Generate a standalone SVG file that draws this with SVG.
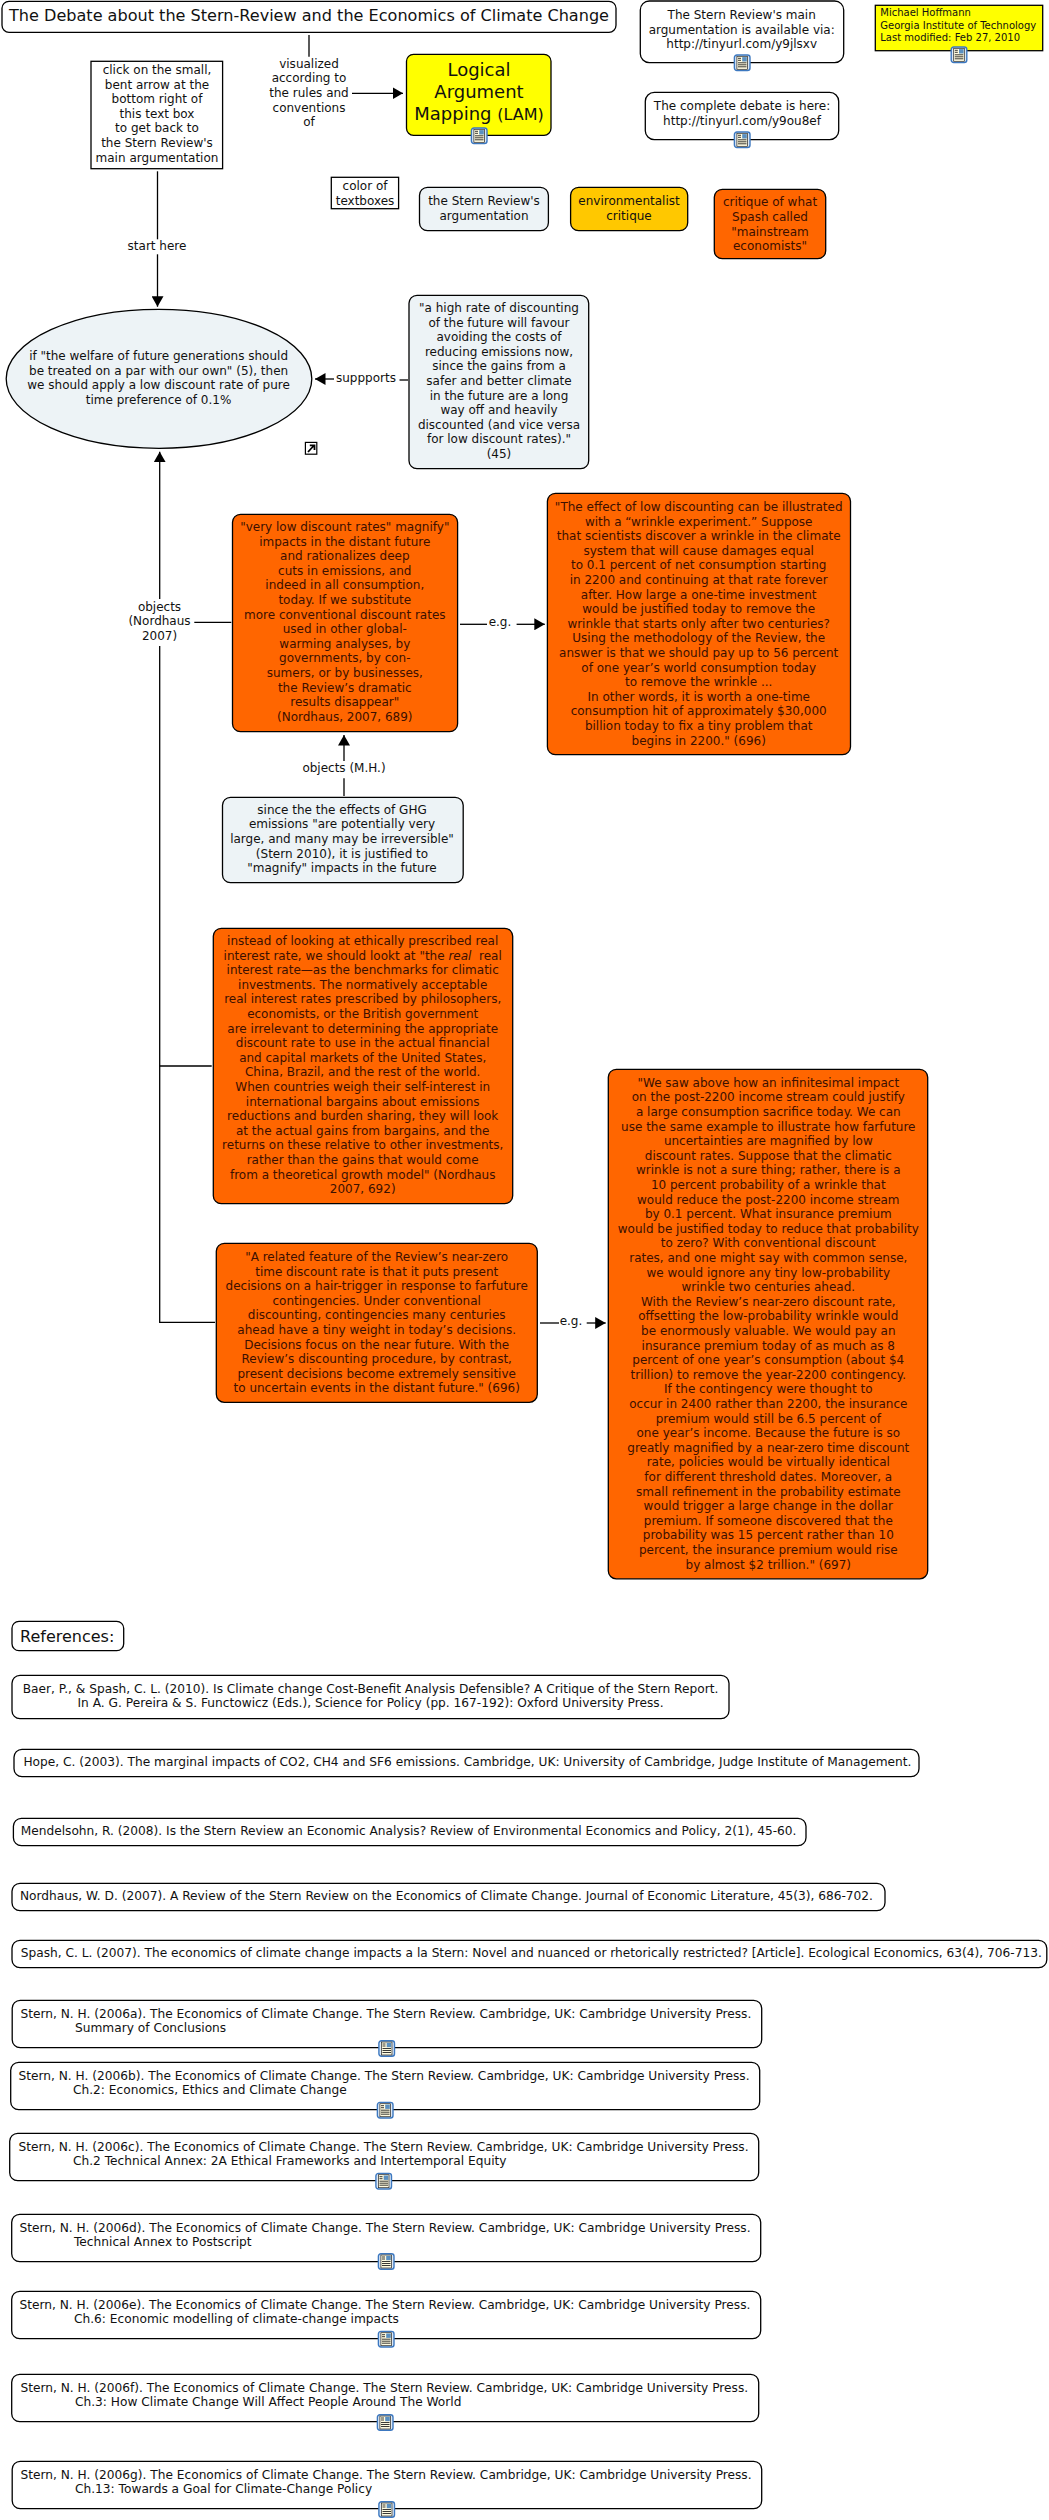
<svg xmlns="http://www.w3.org/2000/svg" width="1049" height="2520" viewBox="0 0 1049 2520">
<style>
text{font-family:"DejaVu Sans",Verdana,sans-serif;font-size:12px;fill:#111}
.m{text-anchor:middle}
.o text{fill:#3c1000}
.b{stroke:#000;stroke-width:1.3}
.w{fill:#fff}.y{fill:#ff0}.g{fill:#edf3f6}.a{fill:#ffc800}.r{fill:#ff6600}
.ln{fill:none;stroke:#000;stroke-width:1.3}
g[id^="ref-"] text{font-size:12.2px}
</style>
<defs>
<marker id="ah" markerUnits="userSpaceOnUse" markerWidth="11" markerHeight="12" refX="10.5" refY="6" orient="auto"><path d="M0 0L10.5 6L0 12Z" fill="#000"/></marker>
<symbol id="doc" viewBox="0 0 17 17" overflow="visible"><rect x="0.7" y="0.7" width="15.6" height="15.6" rx="2.5" fill="#dce8f5" stroke="#3c78c0" stroke-width="1.4"/><rect x="3.2" y="2" width="10.6" height="13" fill="#fffbe0" stroke="#222" stroke-width="0.7"/><rect x="8.5" y="2.8" width="4.6" height="4.4" fill="#5a8fc0"/><path d="M4.3 4h3M4.3 6h3M4.3 8.5h8.5M4.3 10.5h8.5M4.3 12.5h8.5" stroke="#222" stroke-width="0.9"/></symbol>
</defs>
<rect width="1049" height="2520" fill="#fff"/>
<g id="connectors">
<path class="ln" d="M309 35V56.7"/>
<path class="ln" d="M352 93.3H403" marker-end="url(#ah)"/>
<path class="ln" d="M157.5 171.3V239.3"/>
<path class="ln" d="M157.5 254.3V306.7" marker-end="url(#ah)"/>
<path class="ln" d="M408 380H399.5"/>
<path class="ln" d="M334 379H315" marker-end="url(#ah)"/>
<path class="ln" d="M159.7 646V1322.3H215"/>
<path class="ln" d="M159.7 599V451.7" marker-end="url(#ah)"/>
<path class="ln" d="M159.7 1066H211.7"/>
<path class="ln" d="M194.3 622.3H231.3"/>
<path class="ln" d="M460 624.3H487"/>
<path class="ln" d="M516.6 624.3H544.8" marker-end="url(#ah)"/>
<path class="ln" d="M344 796V778.3"/>
<path class="ln" d="M344 761V735" marker-end="url(#ah)"/>
<path class="ln" d="M540 1323H559"/>
<path class="ln" d="M586.7 1323H605.7" marker-end="url(#ah)"/>
<text class="m" y="67.7"><tspan x="309">visualized</tspan><tspan x="309" y="82.3">according to</tspan><tspan x="309" y="97">the rules and</tspan><tspan x="309" y="111.7">conventions</tspan><tspan x="309" y="126.3">of</tspan></text>
<text class="m" x="157" y="250">start here</text>
<text class="m" x="366" y="382">suppports</text>
<text class="m" y="610.7"><tspan x="159.5">objects</tspan><tspan x="159.5" y="625.3">(Nordhaus</tspan><tspan x="159.5" y="640">2007)</tspan></text>
<text class="m" x="500" y="625.7">e.g.</text>
<text class="m" x="344" y="772">objects (M.H.)</text>
<text class="m" x="571" y="1325.4">e.g.</text>
</g>
<g id="title"><rect class="w b" x="2" y="1.3" width="614" height="31" rx="7"/><text class="m" x="309" y="20.7" style="font-size:16px" textLength="600" lengthAdjust="spacingAndGlyphs">The Debate about the Stern-Review and the Economics of Climate Change</text></g>
<g id="lam"><rect class="y b" x="406.5" y="54.3" width="144.5" height="81" rx="7"/><text class="m" style="font-size:18px"><tspan x="479" y="76">Logical</tspan><tspan x="479" y="98">Argument</tspan><tspan x="479" y="120">Mapping <tspan style="font-size:16px">(LAM)</tspan></tspan></text><use href="#doc" x="470.7" y="127.3" width="17" height="17"/></g>
<g id="click"><rect class="w b" x="91" y="61.3" width="131.6" height="107.4"/><text class="m"><tspan x="157" y="74">click on the small,</tspan><tspan x="157" y="88.6">bent arrow at the</tspan><tspan x="157" y="103.2">bottom right of</tspan><tspan x="157" y="117.8">this text box</tspan><tspan x="157" y="132.4">to get back to</tspan><tspan x="157" y="147">the Stern Review's</tspan><tspan x="157" y="161.6">main argumentation</tspan></text></g>
<g id="main-link"><rect class="w b" x="640.3" y="1" width="203.4" height="61.7" rx="9"/><text class="m"><tspan x="741.7" y="19">The Stern Review's main</tspan><tspan x="741.7" y="33.7">argumentation is available via:</tspan><tspan x="741.7" y="48.3">http://tinyurl.com/y9jlsxv</tspan></text><use href="#doc" x="733.7" y="54.3" width="17" height="17"/></g>
<g id="debate-link"><rect class="w b" x="645.3" y="92.3" width="193.4" height="47.4" rx="9"/><text class="m"><tspan x="742" y="110">The complete debate is here:</tspan><tspan x="742" y="124.7">http://tinyurl.com/y9ou8ef</tspan></text><use href="#doc" x="733.7" y="131.3" width="17" height="17"/></g>
<g id="author"><rect class="y b" x="875.3" y="5.3" width="167.4" height="45.4"/><text style="font-size:10px"><tspan x="880.3" y="16.3">Michael Hoffmann</tspan><tspan x="880.3" y="28.7">Georgia Institute of Technology</tspan><tspan x="880.3" y="40.7">Last modified: Feb 27, 2010</tspan></text><use href="#doc" x="950.5" y="46.3" width="17" height="17"/></g>
<g id="legend-label"><rect class="w b" x="331.3" y="177.3" width="67.3" height="31.4"/><text class="m"><tspan x="365" y="190">color of</tspan><tspan x="365" y="204.7">textboxes</tspan></text></g>
<g id="legend-stern"><rect class="g b" x="419.5" y="187.3" width="128.9" height="43.4" rx="8"/><text class="m"><tspan x="484" y="205">the Stern Review's</tspan><tspan x="484" y="220">argumentation</tspan></text></g>
<g id="legend-env"><rect class="a b" x="570.6" y="187.3" width="117.1" height="43.4" rx="8"/><text class="m"><tspan x="629" y="205">environmentalist</tspan><tspan x="629" y="219.7">critique</tspan></text></g>
<g id="legend-critique" class="o"><rect class="r b" x="714.3" y="189.3" width="111.4" height="69.4" rx="8"/><text class="m"><tspan x="770" y="206.3">critique of what</tspan><tspan x="770" y="221">Spash called</tspan><tspan x="770" y="235.6">"mainstream</tspan><tspan x="770" y="250.2">economists"</tspan></text></g>
<g id="claim"><ellipse class="g b" cx="159" cy="378.8" rx="152.8" ry="69.5"/><text class="m"><tspan x="158.6" y="360">if "the welfare of future generations should</tspan><tspan x="158.6" y="374.7">be treated on a par with our own" (5), then</tspan><tspan x="158.6" y="389.3">we should apply a low discount rate of pure</tspan><tspan x="158.6" y="404">time preference of 0.1%</tspan></text></g>
<g id="back-arrow"><rect x="305.4" y="442.4" width="11.4" height="11.8" fill="#fff" stroke="#000" stroke-width="1.2"/><path d="M308 452L313.5 446M309.8 445.3H314.5V450" fill="none" stroke="#000" stroke-width="1.8"/></g>
<g id="supports"><rect class="g b" x="409" y="295.3" width="179.7" height="173.4" rx="8"/><text class="m"><tspan x="499" y="312">"a high rate of discounting</tspan><tspan x="499" y="326.6">of the future will favour</tspan><tspan x="499" y="341.2">avoiding the costs of</tspan><tspan x="499" y="355.8">reducing emissions now,</tspan><tspan x="499" y="370.4">since the gains from a</tspan><tspan x="499" y="385">safer and better climate</tspan><tspan x="499" y="399.6">in the future are a long</tspan><tspan x="499" y="414.2">way off and heavily</tspan><tspan x="499" y="428.8">discounted (and vice versa</tspan><tspan x="499" y="443.4">for low discount rates)."</tspan><tspan x="499" y="458">(45)</tspan></text></g>
<g id="magnify" class="o"><rect class="r b" x="232.5" y="514.3" width="225.1" height="217.4" rx="8"/><text class="m"><tspan x="344.8" y="531">"very low discount rates" magnify"</tspan><tspan x="344.8" y="545.6">impacts in the distant future</tspan><tspan x="344.8" y="560.2">and rationalizes deep</tspan><tspan x="344.8" y="574.8">cuts in emissions, and</tspan><tspan x="344.8" y="589.4">indeed in all consumption,</tspan><tspan x="344.8" y="604">today. If we substitute</tspan><tspan x="344.8" y="618.6">more conventional discount rates</tspan><tspan x="344.8" y="633.2">used in other global-</tspan><tspan x="344.8" y="647.8">warming analyses, by</tspan><tspan x="344.8" y="662.4">governments, by con-</tspan><tspan x="344.8" y="677">sumers, or by businesses,</tspan><tspan x="344.8" y="691.6">the Review’s dramatic</tspan><tspan x="344.8" y="706.2">results disappear"</tspan><tspan x="344.8" y="720.8">(Nordhaus, 2007, 689)</tspan></text></g>
<g id="wrinkle" class="o"><rect class="r b" x="547.4" y="493.3" width="303.1" height="261.4" rx="8"/><text class="m"><tspan x="698.7" y="511">"The effect of low discounting can be illustrated</tspan><tspan x="698.7" y="525.6">with a “wrinkle experiment.” Suppose</tspan><tspan x="698.7" y="540.2">that scientists discover a wrinkle in the climate</tspan><tspan x="698.7" y="554.8">system that will cause damages equal</tspan><tspan x="698.7" y="569.4">to 0.1 percent of net consumption starting</tspan><tspan x="698.7" y="584">in 2200 and continuing at that rate forever</tspan><tspan x="698.7" y="598.6">after. How large a one-time investment</tspan><tspan x="698.7" y="613.2">would be justified today to remove the</tspan><tspan x="698.7" y="627.8">wrinkle that starts only after two centuries?</tspan><tspan x="698.7" y="642.4">Using the methodology of the Review, the</tspan><tspan x="698.7" y="657">answer is that we should pay up to 56 percent</tspan><tspan x="698.7" y="671.6">of one year’s world consumption today</tspan><tspan x="698.7" y="686.2">to remove the wrinkle ...</tspan><tspan x="698.7" y="700.8">In other words, it is worth a one-time</tspan><tspan x="698.7" y="715.4">consumption hit of approximately $30,000</tspan><tspan x="698.7" y="730">billion today to fix a tiny problem that</tspan><tspan x="698.7" y="744.6">begins in 2200." (696)</tspan></text></g>
<g id="ghg"><rect class="g b" x="222.5" y="797.3" width="240.7" height="85.4" rx="8"/><text class="m"><tspan x="342" y="813.7">since the the effects of GHG</tspan><tspan x="342" y="828.3">emissions "are potentially very</tspan><tspan x="342" y="842.9">large, and many may be irreversible"</tspan><tspan x="342" y="857.5">(Stern 2010), it is justified to</tspan><tspan x="342" y="872.1">"magnify" impacts in the future</tspan></text></g>
<g id="real-rate" class="o"><rect class="r b" x="213.3" y="928.3" width="299.4" height="275.4" rx="8"/><text class="m"><tspan x="362.7" y="945">instead of looking at ethically prescribed real</tspan><tspan x="362.7" y="959.6">interest rate, we should lookt at "the <tspan font-style="italic">real</tspan>&#160; real</tspan><tspan x="362.7" y="974.2">interest rate—as the benchmarks for climatic</tspan><tspan x="362.7" y="988.8">investments. The normatively acceptable</tspan><tspan x="362.7" y="1003.4">real interest rates prescribed by philosophers,</tspan><tspan x="362.7" y="1018">economists, or the British government</tspan><tspan x="362.7" y="1032.6">are irrelevant to determining the appropriate</tspan><tspan x="362.7" y="1047.2">discount rate to use in the actual financial</tspan><tspan x="362.7" y="1061.8">and capital markets of the United States,</tspan><tspan x="362.7" y="1076.4">China, Brazil, and the rest of the world.</tspan><tspan x="362.7" y="1091">When countries weigh their self-interest in</tspan><tspan x="362.7" y="1105.6">international bargains about emissions</tspan><tspan x="362.7" y="1120.2">reductions and burden sharing, they will look</tspan><tspan x="362.7" y="1134.8">at the actual gains from bargains, and the</tspan><tspan x="362.7" y="1149.4">returns on these relative to other investments,</tspan><tspan x="362.7" y="1164">rather than the gains that would come</tspan><tspan x="362.7" y="1178.6">from a theoretical growth model" (Nordhaus</tspan><tspan x="362.7" y="1193.2">2007, 692)</tspan></text></g>
<g id="hair-trigger" class="o"><rect class="r b" x="216.3" y="1243.3" width="321" height="159" rx="8"/><text class="m"><tspan x="376.7" y="1261">"A related feature of the Review’s near-zero</tspan><tspan x="376.7" y="1275.6">time discount rate is that it puts present</tspan><tspan x="376.7" y="1290.2">decisions on a hair-trigger in response to farfuture</tspan><tspan x="376.7" y="1304.8">contingencies. Under conventional</tspan><tspan x="376.7" y="1319.4">discounting, contingencies many centuries</tspan><tspan x="376.7" y="1334">ahead have a tiny weight in today’s decisions.</tspan><tspan x="376.7" y="1348.6">Decisions focus on the near future. With the</tspan><tspan x="376.7" y="1363.2">Review’s discounting procedure, by contrast,</tspan><tspan x="376.7" y="1377.8">present decisions become extremely sensitive</tspan><tspan x="376.7" y="1392.4">to uncertain events in the distant future." (696)</tspan></text></g>
<g id="insurance" class="o"><rect class="r b" x="608.3" y="1069.3" width="319.4" height="509.5" rx="8"/><text class="m"><tspan x="768.3" y="1086.8">"We saw above how an infinitesimal impact</tspan><tspan x="768.3" y="1101.4">on the post-2200 income stream could justify</tspan><tspan x="768.3" y="1116">a large consumption sacrifice today. We can</tspan><tspan x="768.3" y="1130.6">use the same example to illustrate how farfuture</tspan><tspan x="768.3" y="1145.2">uncertainties are magnified by low</tspan><tspan x="768.3" y="1159.8">discount rates. Suppose that the climatic</tspan><tspan x="768.3" y="1174.4">wrinkle is not a sure thing; rather, there is a</tspan><tspan x="768.3" y="1189">10 percent probability of a wrinkle that</tspan><tspan x="768.3" y="1203.6">would reduce the post-2200 income stream</tspan><tspan x="768.3" y="1218.2">by 0.1 percent. What insurance premium</tspan><tspan x="768.3" y="1232.8">would be justified today to reduce that probability</tspan><tspan x="768.3" y="1247.4">to zero? With conventional discount</tspan><tspan x="768.3" y="1262">rates, and one might say with common sense,</tspan><tspan x="768.3" y="1276.6">we would ignore any tiny low-probability</tspan><tspan x="768.3" y="1291.2">wrinkle two centuries ahead.</tspan><tspan x="768.3" y="1305.8">With the Review’s near-zero discount rate,</tspan><tspan x="768.3" y="1320.4">offsetting the low-probability wrinkle would</tspan><tspan x="768.3" y="1335">be enormously valuable. We would pay an</tspan><tspan x="768.3" y="1349.6">insurance premium today of as much as 8</tspan><tspan x="768.3" y="1364.2">percent of one year’s consumption (about $4</tspan><tspan x="768.3" y="1378.8">trillion) to remove the year-2200 contingency.</tspan><tspan x="768.3" y="1393.4">If the contingency were thought to</tspan><tspan x="768.3" y="1408">occur in 2400 rather than 2200, the insurance</tspan><tspan x="768.3" y="1422.6">premium would still be 6.5 percent of</tspan><tspan x="768.3" y="1437.2">one year’s income. Because the future is so</tspan><tspan x="768.3" y="1451.8">greatly magnified by a near-zero time discount</tspan><tspan x="768.3" y="1466.4">rate, policies would be virtually identical</tspan><tspan x="768.3" y="1481">for different threshold dates. Moreover, a</tspan><tspan x="768.3" y="1495.6">small refinement in the probability estimate</tspan><tspan x="768.3" y="1510.2">would trigger a large change in the dollar</tspan><tspan x="768.3" y="1524.8">premium. If someone discovered that the</tspan><tspan x="768.3" y="1539.4">probability was 15 percent rather than 10</tspan><tspan x="768.3" y="1554">percent, the insurance premium would rise</tspan><tspan x="768.3" y="1568.6">by almost $2 trillion." (697)</tspan></text></g>
<g id="references-title"><rect class="w b" x="12" y="1621.3" width="111.7" height="29.4" rx="7"/><text x="20" y="1641.7" style="font-size:16px">References:</text></g>
<g id="ref-baer"><rect class="w b" x="12" y="1675.3" width="717" height="43.4" rx="8"/><text class="m"><tspan x="370.5" y="1692.7">Baer, P., &amp; Spash, C. L. (2010). Is Climate change Cost-Benefit Analysis Defensible? A Critique of the Stern Report.</tspan><tspan x="370.5" y="1707.3">In A. G. Pereira &amp; S. Functowicz (Eds.), Science for Policy (pp. 167-192): Oxford University Press.</tspan></text></g>
<g id="ref-hope"><rect class="w b" x="14" y="1749.3" width="905" height="27.4" rx="8"/><text x="23.4" y="1765.7">Hope, C. (2003). The marginal impacts of CO2, CH4 and SF6 emissions. Cambridge, UK: University of Cambridge, Judge Institute of Management.</text></g>
<g id="ref-mendelsohn"><rect class="w b" x="13.4" y="1818.3" width="792.6" height="27.4" rx="8"/><text x="20.7" y="1834.7">Mendelsohn, R. (2008). Is the Stern Review an Economic Analysis? Review of Environmental Economics and Policy, 2(1), 45-60.</text></g>
<g id="ref-nordhaus"><rect class="w b" x="12" y="1883.3" width="873" height="27.4" rx="8"/><text x="20" y="1899.7">Nordhaus, W. D. (2007). A Review of the Stern Review on the Economics of Climate Change. Journal of Economic Literature, 45(3), 686-702.</text></g>
<g id="ref-spash"><rect class="w b" x="12" y="1940.3" width="1034.8" height="27.4" rx="8"/><text x="20.7" y="1956.7">Spash, C. L. (2007). The economics of climate change impacts a la Stern: Novel and nuanced or rhetorically restricted? [Article]. Ecological Economics, 63(4), 706-713.</text></g>
<g id="ref-stern-a"><rect class="w b" x="12.2" y="2000.3" width="749.5" height="47.4" rx="8"/><text><tspan x="20.4" y="2017.7">Stern, N. H. (2006a). The Economics of Climate Change. The Stern Review. Cambridge, UK: Cambridge University Press.</tspan><tspan x="75" y="2032.3">Summary of Conclusions</tspan></text><use href="#doc" x="378.2" y="2040" width="17" height="17"/></g>
<g id="ref-stern-b"><rect class="w b" x="10.7" y="2062.3" width="749" height="47.4" rx="8"/><text><tspan x="18.4" y="2079.7">Stern, N. H. (2006b). The Economics of Climate Change. The Stern Review. Cambridge, UK: Cambridge University Press.</tspan><tspan x="73" y="2094.3">Ch.2: Economics, Ethics and Climate Change</tspan></text><use href="#doc" x="376.7" y="2101.7" width="17" height="17"/></g>
<g id="ref-stern-c"><rect class="w b" x="9.7" y="2133.3" width="749" height="47.4" rx="8"/><text><tspan x="18.4" y="2150.7">Stern, N. H. (2006c). The Economics of Climate Change. The Stern Review. Cambridge, UK: Cambridge University Press.</tspan><tspan x="73" y="2165.3">Ch.2 Technical Annex: 2A Ethical Frameworks and Intertemporal Equity</tspan></text><use href="#doc" x="375.2" y="2172.7" width="17" height="17"/></g>
<g id="ref-stern-d"><rect class="w b" x="11.7" y="2214.3" width="749" height="47.4" rx="8"/><text><tspan x="19.4" y="2231.7">Stern, N. H. (2006d). The Economics of Climate Change. The Stern Review. Cambridge, UK: Cambridge University Press.</tspan><tspan x="74" y="2246.3">Technical Annex to Postscript</tspan></text><use href="#doc" x="377.7" y="2253" width="17" height="17"/></g>
<g id="ref-stern-e"><rect class="w b" x="11.7" y="2291.3" width="749" height="47.4" rx="8"/><text><tspan x="19.4" y="2308.7">Stern, N. H. (2006e). The Economics of Climate Change. The Stern Review. Cambridge, UK: Cambridge University Press.</tspan><tspan x="74" y="2323.3">Ch.6: Economic modelling of climate-change impacts</tspan></text><use href="#doc" x="377.7" y="2330.7" width="17" height="17"/></g>
<g id="ref-stern-f"><rect class="w b" x="11.7" y="2374.3" width="747" height="47.4" rx="8"/><text><tspan x="20.4" y="2391.7">Stern, N. H. (2006f). The Economics of Climate Change. The Stern Review. Cambridge, UK: Cambridge University Press.</tspan><tspan x="75" y="2406.3">Ch.3: How Climate Change Will Affect People Around The World</tspan></text><use href="#doc" x="376.7" y="2414" width="17" height="17"/></g>
<g id="ref-stern-g"><rect class="w b" x="12.2" y="2461.3" width="749.5" height="47.4" rx="8"/><text><tspan x="20.4" y="2478.7">Stern, N. H. (2006g). The Economics of Climate Change. The Stern Review. Cambridge, UK: Cambridge University Press.</tspan><tspan x="75" y="2493.3">Ch.13: Towards a Goal for Climate-Change Policy</tspan></text><use href="#doc" x="378.2" y="2501" width="17" height="17"/></g>
</svg>
